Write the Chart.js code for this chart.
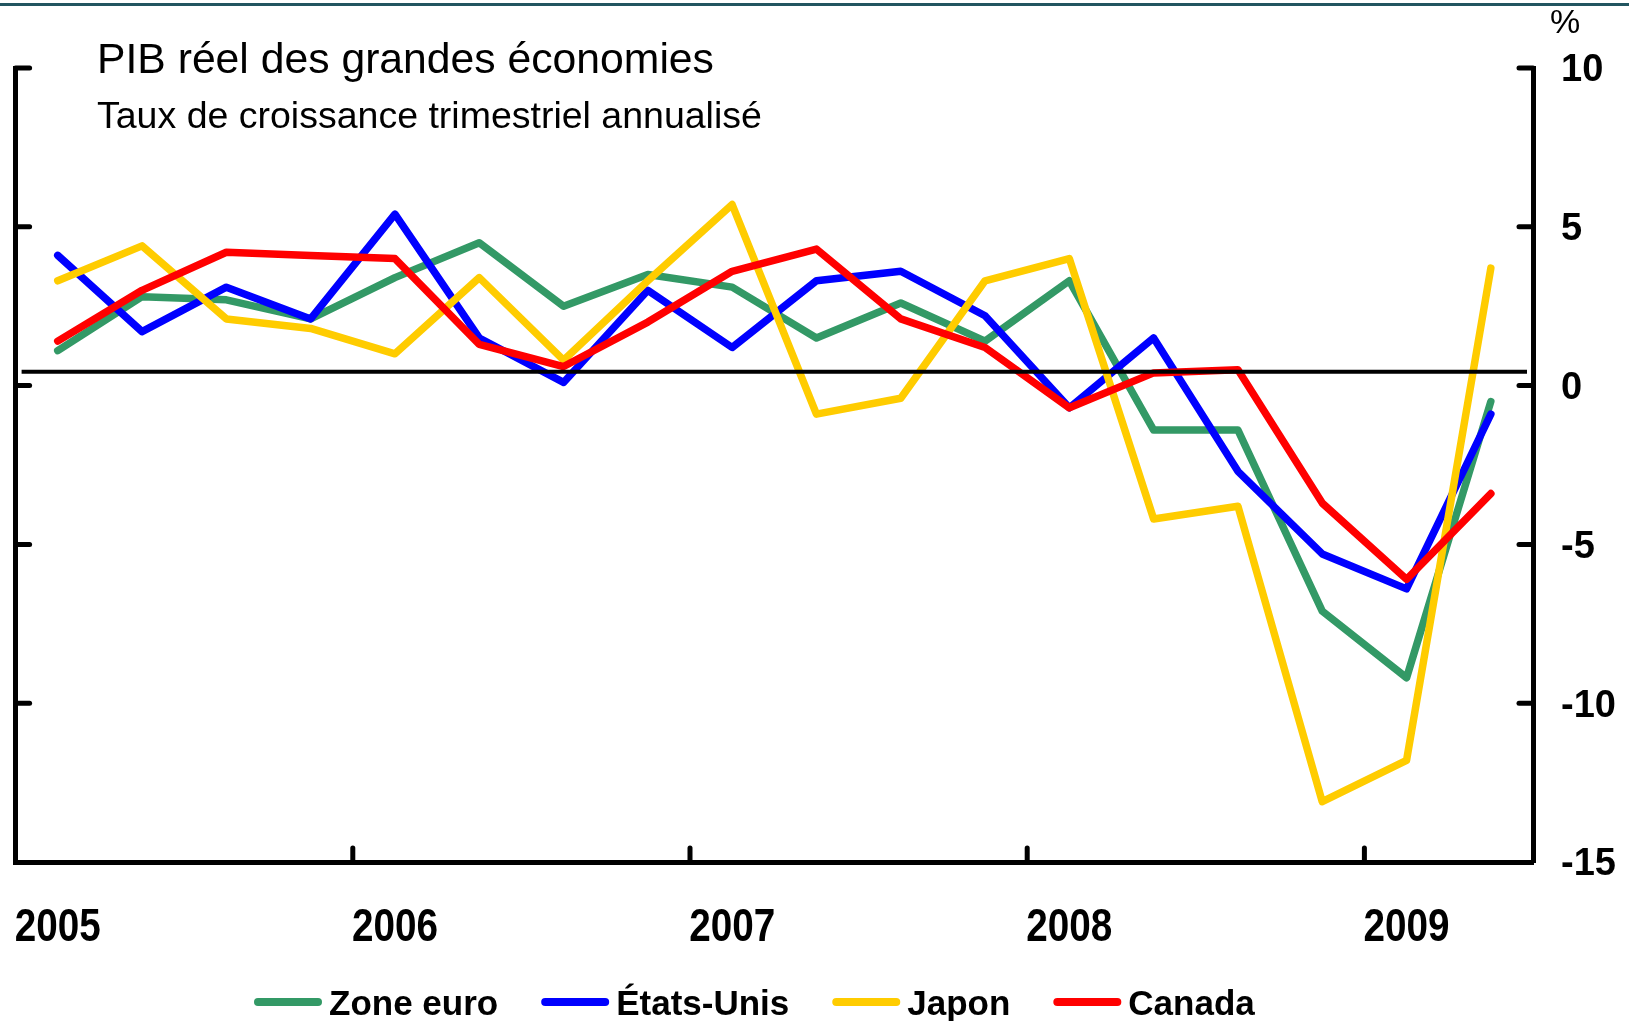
<!DOCTYPE html>
<html lang="fr">
<head>
<meta charset="utf-8">
<title>PIB réel des grandes économies</title>
<script src="https://cdn.jsdelivr.net/npm/chart.js@4.4.1/dist/chart.umd.min.js"></script>
<style>
  html, body { margin: 0; padding: 0; background: #ffffff; }
  #wrap { position: relative; width: 1629px; height: 1021px; }
  canvas { display: block; }
</style>
</head>
<body>
<div id="wrap"><canvas id="gdp" width="1629" height="1021"></canvas></div>
<script>
// Quarterly categories, 2005 T1 to 2009 T2
const quarters = [
  '2005T1','2005T2','2005T3','2005T4',
  '2006T1','2006T2','2006T3','2006T4',
  '2007T1','2007T2','2007T3','2007T4',
  '2008T1','2008T2','2008T3','2008T4',
  '2009T1','2009T2'
];
const yearLabels = ['2005', '2006', '2007', '2008', '2009'];

// Annualized quarterly real GDP growth, %
const zoneEuro  = [1.1, 2.8, 2.7, 2.1, 3.4, 4.5, 2.5, 3.5, 3.1, 1.5, 2.6, 1.4, 3.3, -1.4, -1.4, -7.1, -9.2, -0.5];
const etatsUnis = [4.1, 1.7, 3.1, 2.1, 5.4, 1.5, 0.1, 3.0, 1.2, 3.3, 3.6, 2.2, -0.7, 1.5, -2.7, -5.3, -6.4, -0.9];
const japon     = [3.3, 4.4, 2.1, 1.8, 1.0, 3.4, 0.8, 3.3, 5.7, -0.9, -0.4, 3.3, 4.0, -4.2, -3.8, -13.1, -11.8, 3.7];
const canada    = [1.4, 3.0, 4.2, 4.1, 4.0, 1.3, 0.6, 2.0, 3.6, 4.3, 2.1, 1.2, -0.7, 0.4, 0.5, -3.7, -6.1, -3.4];

// Level of the horizontal reference line, %
const referenceLevel = 0.44;

const SANS = "'Liberation Sans', Arial, Helvetica, sans-serif";

const W = 1629, H = 1021;
const AXIS_W = 5, TICK_LEN = 14;

function series(label, data, color, order) {
  return {
    label, data,
    borderColor: color, backgroundColor: color,
    borderWidth: 7.5, pointRadius: 0, pointHoverRadius: 0,
    borderJoinStyle: 'round', borderCapStyle: 'round',
    tension: 0, order
  };
}

// Inward tick marks, reference line, year labels, titles, legend and top rule
const decorations = {
  id: 'decorations',
  afterDatasetsDraw(chart) {
    const { ctx, chartArea: a, scales } = chart;
    const x = scales.x, y = scales.y;
    ctx.save();
    // horizontal reference line
    const yr = y.getPixelForValue(referenceLevel);
    ctx.strokeStyle = '#000';
    ctx.lineWidth = 4;
    ctx.lineCap = 'butt';
    ctx.beginPath();
    ctx.moveTo(a.left + 6, yr);
    ctx.lineTo(a.right - 6, yr);
    ctx.stroke();

    // inward ticks on both vertical axes
    ctx.lineWidth = AXIS_W;
    ctx.lineCap = 'round';
    y.ticks.forEach(t => {
      const py = y.getPixelForValue(t.value);
      if (Math.abs(py - a.bottom) < 1) return;
      ctx.beginPath(); ctx.moveTo(a.left, py); ctx.lineTo(a.left + TICK_LEN, py); ctx.stroke();
      ctx.beginPath(); ctx.moveTo(a.right, py); ctx.lineTo(a.right - TICK_LEN, py); ctx.stroke();
    });
    // inward ticks on the time axis, at each year boundary
    for (let i = 4; i < quarters.length; i += 4) {
      const px = (x.getPixelForValue(i - 1) + x.getPixelForValue(i)) / 2;
      ctx.beginPath(); ctx.moveTo(px, a.bottom); ctx.lineTo(px, a.bottom - TICK_LEN); ctx.stroke();
    }

    // year labels, condensed bold, centred on each first quarter
    ctx.fillStyle = '#000';
    ctx.font = 'bold 46px ' + SANS;
    ctx.textAlign = 'center';
    ctx.textBaseline = 'alphabetic';
    yearLabels.forEach((lab, k) => {
      const px = x.getPixelForValue(k * 4);
      ctx.fillText(lab, px, a.bottom + 79, 86);
    });
    ctx.restore();
  },
  afterDraw(chart) {
    const { ctx } = chart;
    ctx.save();
    // top rule
    ctx.fillStyle = '#225560';
    ctx.fillRect(0, 3, W, 3);

    // titles
    ctx.fillStyle = '#000';
    ctx.textAlign = 'left';
    ctx.textBaseline = 'alphabetic';
    ctx.font = '42.7px ' + SANS;
    ctx.fillText('PIB réel des grandes économies', 97, 73);
    ctx.font = '37.5px ' + SANS;
    ctx.fillText('Taux de croissance trimestriel annualisé', 97, 128);

    // unit
    ctx.font = '34px ' + SANS;
    ctx.textAlign = 'center';
    ctx.fillText('%', 1565, 33);

    // legend
    ctx.font = 'bold 35px ' + SANS;
    ctx.textAlign = 'left';
    let cx = 254;
    const cy = 1002;
    chart.data.datasets.forEach(ds => {
      ctx.strokeStyle = ds.borderColor;
      ctx.lineWidth = 8;
      ctx.lineCap = 'round';
      ctx.beginPath();
      ctx.moveTo(cx + 4, cy); ctx.lineTo(cx + 64, cy);
      ctx.stroke();
      cx += 75;
      ctx.fillStyle = '#000';
      ctx.fillText(ds.label, cx, cy + 12.5);
      cx += ctx.measureText(ds.label).width + 43;
    });
    ctx.restore();
  }
};

new Chart(document.getElementById('gdp'), {
  type: 'line',
  data: {
    labels: quarters,
    datasets: [
      series('Zone euro', zoneEuro, '#339966', 4),
      series('États-Unis', etatsUnis, '#0000ff', 3),
      series('Japon', japon, '#ffcc00', 2),
      series('Canada', canada, '#ff0000', 1)
    ]
  },
  options: {
    responsive: false,
    devicePixelRatio: 1,
    animation: false,
    events: [],
    layout: { autoPadding: false, padding: { left: 15.6, top: 68, right: 0, bottom: 0 } },
    plugins: { legend: { display: false }, tooltip: { enabled: false }, title: { display: false } },
    scales: {
      x: {
        type: 'category',
        position: 'bottom',
        offset: true,
        grid: { display: true, drawOnChartArea: false, drawTicks: false, color: 'rgba(0,0,0,0)' },
        border: { display: true, width: AXIS_W, color: '#000' },
        ticks: { display: false },
        afterFit: s => { s.height = H - 862; }
      },
      y: {
        position: 'right',
        min: -15, max: 10,
        grid: { display: true, drawOnChartArea: false, drawTicks: false, color: 'rgba(0,0,0,0)' },
        border: { display: true, width: AXIS_W, color: '#000' },
        ticks: {
          stepSize: 5, padding: 28, color: '#000', labelOffset: 3,
          font: { family: SANS, size: 38, weight: 'bold' }
        },
        afterFit: s => { s.width = W - 1533; }
      },
      yLeft: {
        position: 'left',
        min: -15, max: 10,
        grid: { display: true, drawOnChartArea: false, drawTicks: false, color: 'rgba(0,0,0,0)' },
        border: { display: true, width: AXIS_W, color: '#000' },
        ticks: { display: false, stepSize: 5 },
        afterFit: s => { s.width = 0; }
      }
    }
  },
  plugins: [decorations]
});
</script>
</body>
</html>
